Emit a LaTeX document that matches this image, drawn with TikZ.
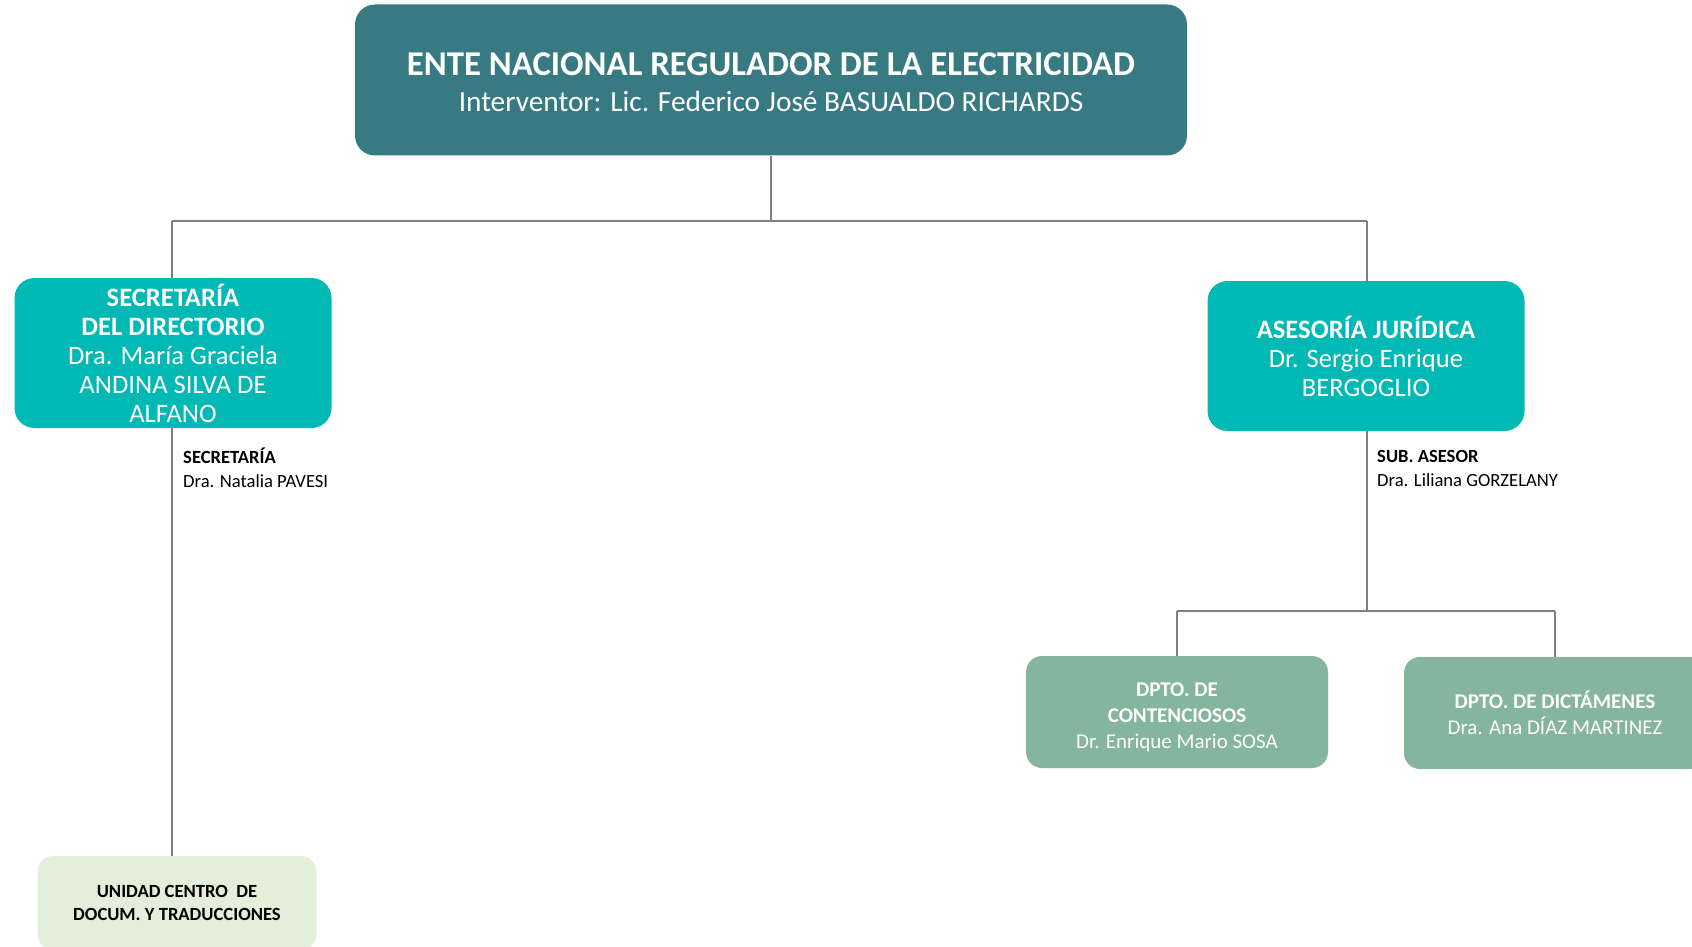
\documentclass[tikz,border=0pt]{standalone}
\usepackage{fontspec}
\setmainfont{Carlito}
\usetikzlibrary{backgrounds}
\definecolor{enteteal}{HTML}{377A82}
\definecolor{turq}{HTML}{00B9B4}
\definecolor{sage}{HTML}{85B59C}
\definecolor{palegreen}{HTML}{E3EFDA}
\definecolor{linegray}{HTML}{7F7F7F}

\begin{document}
\begin{tikzpicture}[x=1pt,y=-1pt,
  box/.style={rectangle,rounded corners=20pt,align=center,inner sep=0pt},
  topbox/.style={box,fill=enteteal,text=white,minimum width=832pt,minimum height=151pt,font=\fontsize{29.3}{36}\selectfont},
  areabox/.style={box,fill=turq,text=white,minimum width=317pt,minimum height=150pt,font=\fontsize{26.6}{29}\selectfont},
  dptobox/.style={box,rounded corners=16pt,fill=sage,text=white,minimum width=302pt,minimum height=112pt,font=\fontsize{21}{26}\selectfont},
  unitbox/.style={box,rounded corners=16pt,fill=palegreen,text=black,minimum width=279pt,minimum height=94pt,font=\bfseries\fontsize{18.6}{23}\selectfont},
  staff/.style={anchor=west,align=left,inner sep=0pt,font=\fontsize{18.6}{24}\selectfont},
  conn/.style={draw=linegray,line width=1.8pt}]
\clip (0,0) rectangle (1692,947);
\node[topbox] (ente) at (771,80) {\rule{0pt}{27pt}{\bfseries\fontsize{34.8}{36}\selectfont ENTE NACIONAL REGULADOR DE LA ELECTRICIDAD}\\
  Interventor: Lic. Federico José BASUALDO RICHARDS};
\node[areabox] (secdir) at (173,353) {\textbf{SECRETARÍA}\\\textbf{DEL DIRECTORIO}\\Dra. María Graciela\\ANDINA SILVA DE\\ALFANO};
\node[areabox] (asesoria) at (1366,356) {\textbf{ASESORÍA JURÍDICA}\\Dr. Sergio Enrique\\BERGOGLIO};
\node[staff] (secret) at (183,468) {\textbf{SECRETARÍA}\\Dra. Natalia PAVESI};
\node[staff] (subases) at (1377,468) {\textbf{SUB. ASESOR}\\Dra. Liliana GORZELANY};
\node[dptobox] (contenc) at (1177,712) {\rule{0pt}{24pt}\textbf{DPTO. DE}\\\textbf{CONTENCIOSOS}\\Dr. Enrique Mario SOSA};
\node[dptobox] (dictam) at (1555,713) {\textbf{DPTO. DE DICTÁMENES}\\Dra. Ana DÍAZ MARTINEZ};
\node[unitbox] (unidad) at (177,903) {UNIDAD CENTRO~~DE\\DOCUM. Y TRADUCCIONES};
\coordinate (barL) at (172,221);
\coordinate (barR) at (1367,221);
\coordinate (subbar) at (1367,611);
\begin{scope}[on background layer]
\draw[conn] (ente.south) -- (ente.south |- barL);
\draw[conn] (barL) -- (barR);
\draw[conn] (barL) -- (barL |- unidad.north);
\draw[conn] (barR) -- (subbar);
\draw[conn] (contenc.north |- subbar) -- (dictam.north |- subbar);
\draw[conn] (contenc.north |- subbar) -- (contenc.north);
\draw[conn] (dictam.north |- subbar) -- (dictam.north);
\end{scope}
\end{tikzpicture}
\end{document}
